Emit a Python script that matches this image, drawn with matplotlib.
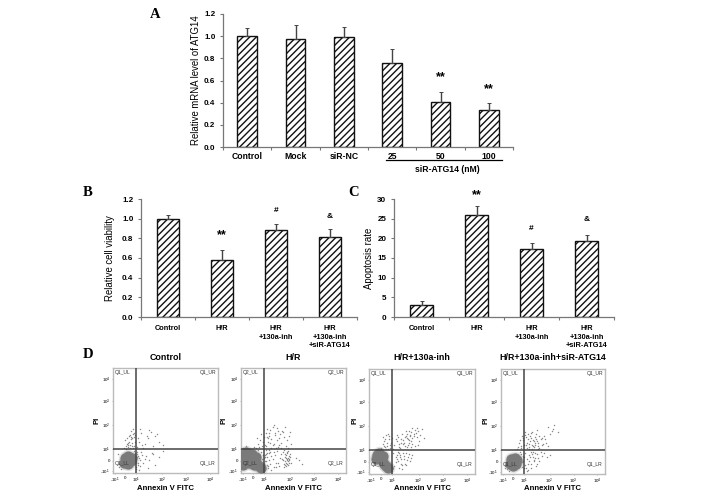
import matplotlib
matplotlib.use("Agg")
import matplotlib.pyplot as plt

plt.rcParams['font.family'] = ['Liberation Sans', 'DejaVu Sans']
plt.rcParams['font.weight'] = 'bold'
plt.rcParams['mathtext.default'] = 'regular'
plt.rcParams['hatch.linewidth'] = 1.0

W, H = 708, 499

# panel A
catsA = ['Control', 'Mock', 'siR-NC', '25', '50', '100']
valsA = [1.0, 0.975, 0.995, 0.76, 0.405, 0.335]
errsA = [0.07, 0.125, 0.085, 0.12, 0.09, 0.065]
marksA = [(4, 0.63, '**'), (5, 0.52, '**')]

# panels B and C
catsBC = ['Control', 'H/R', 'H/R\n+130a-inh', 'H/R\n+130a-inh\n+siR-ATG14']
valsB = [1.0, 0.575, 0.88, 0.81]
errsB = [0.04, 0.11, 0.07, 0.08]
marksB = [(1, 0.83, '**'), (2, 1.08, '#'), (3, 1.02, '&')]
valsC = [3.0, 26.0, 17.2, 19.2]
errsC = [1.0, 2.3, 1.5, 1.6]
marksC = [(1, 31.0, '**'), (2, 22.4, '#'), (3, 24.9, '&')]

# panel D, positions in percent of the plot
titlesD = ['Control', 'H/R', 'H/R+130a-inh', 'H/R+130a-inh+siR-ATG14']
prefixD = ['Q1', 'Q2', 'Q1', 'Q1']
xtickpos = [2, 11.7, 22, 46.7, 69.8, 92.7]
ytickpos = [1.6, 11.6, 22.6, 45.6, 68.6, 89.6]
ticklabs = ['-10$^1$', '0', '10$^1$', '10$^2$', '10$^3$', '10$^4$']

blob1x = [14, 11, 17, 14, 10, 18, 14]
blob1y = [12.5, 14, 11, 9, 10, 14, 16]
dots1x = [10, 12, 13, 14, 15, 16, 17, 18, 19, 20, 11, 13, 15, 17, 19, 21, 12, 14, 16, 18, 20, 14, 16, 18, 20, 17, 19, 21,
          23, 25, 27, 30, 33, 36, 40, 44, 48, 26, 29, 34, 38, 24, 28, 32, 42,
          23, 25, 27, 29, 31, 34, 37, 40, 44, 48, 26, 30, 24, 28, 33, 38, 22, 24, 26, 23, 25,
          6, 8, 22, 23, 21, 24, 5, 20, 22]
dots1y = [24, 26, 28, 25, 30, 27, 32, 29, 24, 26, 31, 33, 35, 34, 37, 30, 23, 29, 36, 33, 38, 27, 24, 26, 34, 40, 42, 36,
          25, 30, 38, 28, 33, 39, 35, 30, 27, 42, 24, 41, 26, 33, 27, 35, 37,
          18, 14, 20, 10, 16, 12, 19, 8, 15, 21, 7, 13, 10, 17, 5, 18, 6, 8, 12, 15, 3,
          6, 4, 4, 20, 19, 16, 18, 21, 10]

blob2x = [3, 6, 9, 12, 15, 17, 19, 6, 10, 14, 3, 2, 8, 12, 5]
blob2y = [18, 18, 15, 12, 9, 7, 5, 12, 18, 15, 12, 8, 10, 8, 20]
dots2x = [41, 42, 43, 44, 45, 46, 47, 40, 41, 43, 44, 45, 46, 42, 43, 44, 45, 42, 44, 46, 41, 43, 45, 47, 42, 44, 40, 46,
          14, 16, 18, 20, 22, 24, 26, 28, 30, 32, 34, 36, 38, 40, 42, 44, 46, 48, 15, 19, 23, 27, 31, 35, 39, 43, 47,
          17, 21, 25, 29, 33, 37, 41, 45, 24, 28, 32, 36, 26, 30, 34, 38, 27, 25, 31, 29, 35,
          23, 25, 27, 29, 31, 33, 35, 37, 24, 26, 28, 30, 32, 34, 36, 23, 25, 27, 29, 31, 33, 38, 39, 24, 28, 22, 22, 23,
          48, 52, 58, 55, 2, 5, 9, 12, 16, 19, 21, 24, 26, 22, 25, 20, 18, 23, 27]
dots2y = [6, 8, 10, 12, 14, 16, 18, 20, 22, 7, 9, 11, 13, 15, 17, 19, 21, 11, 13, 10, 9, 14, 8, 15, 18, 20, 12, 12,
          24, 28, 31, 26, 34, 38, 30, 41, 27, 36, 43, 33, 29, 39, 44, 31, 35, 28, 33, 37, 27, 35, 46, 25, 40, 26, 39,
          25, 30, 42, 32, 24, 37, 34, 24, 26, 29, 38, 27, 33, 44, 31, 24, 38, 34, 28, 24, 40,
          4, 8, 12, 16, 20, 6, 10, 14, 18, 5, 9, 13, 17, 21, 7, 11, 15, 19, 3, 6, 10, 18, 13, 22, 20, 14, 9, 17,
          10, 14, 9, 12, 24, 26, 23, 25, 22, 20, 17, 11, 7, 4, 19, 13, 3, 15, 22]

blob3x = [8, 10, 12, 14, 16, 18, 9, 13, 7]
blob3y = [18, 15, 13, 10, 8, 6, 20, 17, 14]
dots3x = [24, 26, 28, 30, 32, 34, 36, 38, 40, 42, 44, 46, 48, 50, 33, 35, 37, 39, 41, 43, 45, 36, 38, 40, 42, 37, 39, 41,
          27, 29, 31, 34, 38, 43, 47, 52, 25, 30, 35, 40, 45, 23, 26, 32, 36, 41, 46, 28,
          11, 13, 15, 17, 19, 21, 12, 14, 16, 18, 20, 13, 15, 17, 19, 14, 16, 18, 20, 22,
          23, 25, 27, 29, 31, 33, 35, 37, 39, 41, 24, 26, 28, 30, 32, 34, 36, 38, 25, 27, 29, 31, 33, 35, 26, 28, 30, 23, 40, 22]
dots3y = [28, 31, 26, 33, 29, 35, 38, 32, 40, 36, 39, 41, 37, 43, 30, 36, 33, 37, 34, 42, 35, 34, 41, 31, 38, 28, 36, 44,
          35, 25, 38, 27, 30, 27, 31, 34, 33, 30, 41, 26, 44, 24, 37, 32, 26, 29, 28, 29,
          25, 29, 33, 27, 36, 30, 24, 31, 24, 38, 28, 35, 26, 30, 33, 27, 37, 24, 25, 34,
          20, 16, 12, 18, 9, 14, 20, 16, 12, 18, 8, 18, 6, 14, 20, 10, 13, 19, 11, 21, 16, 5, 17, 9, 14, 20, 10, 6, 15, 3]

blob4x = [12, 10, 14, 12, 9, 15, 13]
blob4y = [12, 14, 10, 8, 10, 13, 15]
dots4x = [15, 17, 19, 21, 23, 25, 27, 29, 31, 33, 35, 37, 39, 41, 43, 45, 47, 49, 51, 24, 26, 28, 30, 32, 34, 36, 38, 40,
          25, 27, 29, 31, 33, 35, 37, 26, 28, 30, 32, 34, 36, 24, 27, 30, 33, 36, 39, 42, 45, 18, 20, 22, 16, 19, 23, 21,
          23, 25, 27, 29, 31, 33, 35, 37, 39, 41, 44, 47, 24, 26, 28, 30, 32, 34, 36, 38, 25, 27, 29, 31, 33, 23, 26, 29, 32,
          35, 17, 19, 21, 20, 18, 22, 6, 20, 21, 8, 4, 22, 55, 50]
dots4y = [24, 30, 27, 34, 37, 30, 26, 39, 32, 28, 42, 25, 34, 36, 30, 45, 38, 41, 47, 28, 33, 36, 24, 31, 38, 27, 33, 29,
          25, 29, 34, 27, 35, 31, 36, 38, 31, 28, 26, 33, 30, 35, 24, 40, 30, 24, 28, 33, 27, 32, 36, 28, 26, 25, 40, 32,
          20, 14, 18, 10, 21, 15, 19, 12, 17, 20, 16, 18, 6, 10, 16, 19, 12, 8, 15, 21, 3, 12, 6, 16, 20, 9, 4, 21, 13,
          10, 15, 19, 12, 7, 21, 16, 5, 11, 17, 3, 6, 6, 40, 43]


def px_axes(x0, y0, x1, y1):
    # pixel box, y measured from the top of the image
    return fig.add_axes([x0 / W, 1 - y1 / H, (x1 - x0) / W, (y1 - y0) / H])


def bar_panel(box, cats, vals, errs, marks, ymax, ystep, yfmt, ylabel, barw, lpad):
    ax = px_axes(*box)
    xs = list(range(len(cats)))
    ax.bar(xs, vals, width=barw, facecolor='white', edgecolor='#111111', linewidth=1.0, hatch='/////')
    ax.errorbar(xs, vals, yerr=[[0] * len(errs), errs], fmt='none', ecolor='#444444', elinewidth=1, capsize=1.2, capthick=0.7)
    ax.set_xlim(-0.5, len(cats) - 0.5)
    ax.set_ylim(0, ymax)
    n = int(round(ymax / ystep))
    ax.set_yticks([i * ystep for i in range(n + 1)])
    ax.set_yticklabels([yfmt % (i * ystep) for i in range(n + 1)], fontsize=5.8)
    ax.set_xticks([i - 0.5 for i in range(len(cats) + 1)])
    ax.set_xticklabels([])
    ax.set_xticks(xs, minor=True)
    ax.set_xticklabels(cats, minor=True, fontsize=5.3, linespacing=1.3, va='top')
    ax.tick_params(axis='x', which='minor', length=0, pad=6)
    ax.tick_params(axis='both', which='major', length=2.5, width=0.8, color='#777777', pad=3)
    for s in ['top', 'right']:
        ax.spines[s].set_visible(False)
    for s in ['left', 'bottom']:
        ax.spines[s].set_color('#777777')
        ax.spines[s].set_linewidth(0.9)
    ax.set_ylabel(ylabel, fontsize=6.9, fontweight='normal', labelpad=lpad)
    for mx, my, mtext in marks:
        ax.text(mx, my, mtext, ha='center', va='center', fontsize=9 if mtext == '**' else 6, clip_on=False)
    return ax


def flow_panel(box, title, prefix, bx, by, dx, dy, pi_x):
    ax = px_axes(*box)
    ax.scatter(dx, dy, s=1.1, color='#888888', linewidths=0, zorder=2)
    ax.scatter(bx, by, s=95, color='#999999', alpha=0.25, linewidths=0, zorder=3)
    ax.scatter(bx, by, s=55, color='#7a7a7a', linewidths=0, zorder=3)
    ax.axvline(22, color='#444444', lw=1.1, zorder=4)
    ax.axhline(22.6, color='#444444', lw=1.1, zorder=4)
    ax.set_xlim(0, 100)
    ax.set_ylim(0, 100)
    ax.set_xticks(xtickpos)
    ax.set_xticklabels(ticklabs, fontsize=3.2, fontweight='normal')
    ax.set_yticks(ytickpos)
    ax.set_yticklabels(ticklabs, fontsize=3.2, fontweight='normal')
    ax.tick_params(length=1, width=0.4, pad=1, color='#777777')
    for s in ax.spines.values():
        s.set_color('#bbbbbb')
        s.set_linewidth(1.0)
    for qx, qy, qa, qtext in [(2, 96, 'left', '_UL'), (98, 96, 'right', '_UR'), (2, 9, 'left', '_LL'), (98, 9, 'right', '_LR')]:
        ax.text(qx, qy, prefix + qtext, fontsize=3.6, fontweight='normal', ha=qa, va='center', color='#333333', zorder=5)
    fig.text((box[0] + box[2]) / 2 / W, 1 - 358 / H, title, ha='center', va='center', fontsize=6.4)
    fig.text((box[0] + box[2]) / 2 / W, 1 - 489 / H, 'Annexin V FITC', ha='center', va='center', fontsize=5.6)
    fig.text(pi_x / W, 1 - 420 / H, 'PI', ha='center', va='center', rotation=90, fontsize=5.6)


fig = plt.figure(figsize=(W / 100, H / 100), dpi=100)

axA = bar_panel((223, 14, 513, 147), catsA, valsA, errsA, marksA, 1.2, 0.2, '%.1f', 'Relative mRNA level of ATG14', 0.41, 2)
axA.tick_params(axis='x', which='minor', labelsize=6.2, pad=3.5)
fig.add_artist(plt.Line2D([386 / W, 502 / W], [1 - 160.5 / H, 1 - 160.5 / H], color='black', lw=0.9))
fig.text(447 / W, 1 - 169 / H, 'siR-ATG14 (nM)', ha='center', va='center', fontsize=6.2)

bar_panel((141, 199, 357, 317), catsBC, valsB, errsB, marksB, 1.2, 0.2, '%.1f', 'Relative cell viability', 0.41, 5)
bar_panel((394, 199, 614, 317), catsBC, valsC, errsC, marksC, 30, 5, '%d', 'Apoptosis rate', 0.41, 2.5)

flow_panel((113, 368, 218, 473), titlesD[0], prefixD[0], blob1x, blob1y, dots1x, dots1y, 97)
flow_panel((241, 368, 346, 473), titlesD[1], prefixD[1], blob2x, blob2y, dots2x, dots2y, 224)
flow_panel((369, 369, 475, 474), titlesD[2], prefixD[2], blob3x, blob3y, dots3x, dots3y, 355)
flow_panel((501, 369, 605, 474), titlesD[3], prefixD[3], blob4x, blob4y, dots4x, dots4y, 486)

for lx, ly, letter in [(155, 15, 'A'), (88, 193, 'B'), (354, 193, 'C'), (88, 355, 'D')]:
    fig.text(lx / W, 1 - ly / H, letter, family='Liberation Serif', fontsize=10.5, ha='center', va='center')

fig.savefig('out.png', dpi=100)
